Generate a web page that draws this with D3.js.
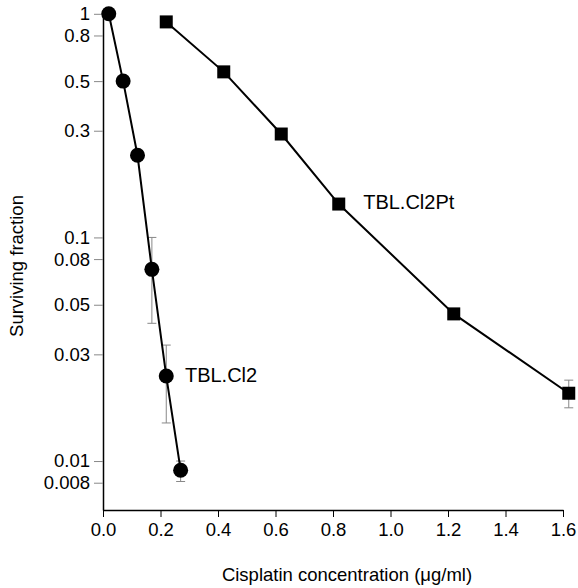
<!DOCTYPE html>
<html>
<head>
<meta charset="utf-8">
<script src="https://cdn.jsdelivr.net/npm/d3@7"></script>
<style>
  body { margin: 0; background: #fff; }
  svg { display: block; font-family: "Liberation Sans", Arial, sans-serif; }
  .axis text { font-size: 18.5px; fill: #000; }
  .y-axis .tick line { stroke: #888; }
  .x-axis .tick line { stroke: #000; }
  .axis path.domain { stroke: #000; stroke-width: 1.5; }
</style>
</head>
<body>
<svg></svg>
<script>
// TBL.Cl2 (circles)
const cl2Dose = [0.02, 0.07, 0.12, 0.17, 0.22, 0.27];
const cl2Surv = [1.0, 0.5, 0.233, 0.072, 0.024, 0.0091];
const cl2Lo   = [null, null, null, 0.0413, 0.0148, 0.0081];
const cl2Hi   = [null, null, null, 0.1, 0.033, 0.01];

// TBL.Cl2Pt (squares)
const ptDose = [0.22, 0.42, 0.62, 0.82, 1.22, 1.62];
const ptSurv = [0.92, 0.55, 0.29, 0.141, 0.0455, 0.0201];
const ptLo   = [null, null, null, null, 0.0432, 0.0173];
const ptHi   = [null, null, null, null, 0.048, 0.023];

const xTicks = [0, 0.2, 0.4, 0.6, 0.8, 1.0, 1.2, 1.4, 1.6];
const yTicks = [1, 0.8, 0.5, 0.3, 0.1, 0.08, 0.05, 0.03, 0.01, 0.008];
const yTickLabels = ["1", "0.8", "0.5", "0.3", "0.1", "0.08", "0.05", "0.03", "0.01", "0.008"];

const W = 578, H = 588;
const margin = { top: 10, right: 15, bottom: 78, left: 103 };
const width = W - margin.left - margin.right;
const height = H - margin.top - margin.bottom;

const svg = d3.select("svg").attr("width", W).attr("height", H)
  .append("g")
  .attr("transform", `translate(${margin.left},${margin.top})`);

const x = d3.scaleLinear().domain([0, 1.6]).range([0, width]);
const y = d3.scaleLog().domain([0.00604, 1.04]).range([height, 0]);

svg.append("g")
  .attr("class", "axis x-axis")
  .attr("transform", `translate(0,${height})`)
  .call(d3.axisBottom(x).tickValues(xTicks).tickFormat(d3.format(".1f"))
    .tickSize(7).tickSizeOuter(0).tickPadding(6));

svg.append("g")
  .attr("class", "axis y-axis")
  .call(d3.axisLeft(y).tickValues(yTicks)
    .tickFormat((d, i) => yTickLabels[i])
    .tickSize(9).tickSizeOuter(0).tickPadding(4));

svg.append("text")
  .attr("text-anchor", "middle")
  .attr("x", 347 - margin.left)
  .attr("y", 581 - margin.top)
  .style("font-size", "18.5px")
  .text("Cisplatin concentration (\u03bcg/ml)");

svg.append("text")
  .attr("text-anchor", "middle")
  .attr("transform", "rotate(-90)")
  .attr("x", -(266 - margin.top))
  .attr("y", 23 - margin.left)
  .style("font-size", "18.5px")
  .text("Surviving fraction");

function series(dose, surv, lo, hi) {
  return dose.map((d, i) => ({ dose: d, surv: surv[i], lo: lo[i], hi: hi[i] }));
}
const cl2 = series(cl2Dose, cl2Surv, cl2Lo, cl2Hi);
const pt = series(ptDose, ptSurv, ptLo, ptHi);

const line = d3.line().x(d => x(d.dose)).y(d => y(d.surv));

function errorBars(data) {
  const g = svg.append("g").attr("stroke", "#888").attr("stroke-width", 1);
  const e = data.filter(d => d.lo != null);
  g.selectAll("line.v").data(e).join("line")
    .attr("x1", d => x(d.dose)).attr("x2", d => x(d.dose))
    .attr("y1", d => y(d.lo)).attr("y2", d => y(d.hi));
  g.selectAll("line.lo").data(e).join("line")
    .attr("x1", d => x(d.dose) - 4.5).attr("x2", d => x(d.dose) + 4.5)
    .attr("y1", d => y(d.lo)).attr("y2", d => y(d.lo));
  g.selectAll("line.hi").data(e).join("line")
    .attr("x1", d => x(d.dose) - 4.5).attr("x2", d => x(d.dose) + 4.5)
    .attr("y1", d => y(d.hi)).attr("y2", d => y(d.hi));
}
errorBars(cl2);
errorBars(pt);

svg.append("path").datum(cl2)
  .attr("fill", "none").attr("stroke", "#000").attr("stroke-width", 2)
  .attr("d", line);
svg.append("path").datum(pt)
  .attr("fill", "none").attr("stroke", "#000").attr("stroke-width", 2)
  .attr("d", line);

svg.selectAll("circle.pt").data(cl2).join("circle")
  .attr("cx", d => x(d.dose)).attr("cy", d => y(d.surv))
  .attr("r", 7.5).attr("fill", "#000");

const sq = 13;
svg.selectAll("rect.pt").data(pt).join("rect")
  .attr("x", d => x(d.dose) - sq / 2).attr("y", d => y(d.surv) - sq / 2)
  .attr("width", sq).attr("height", sq).attr("fill", "#000");

svg.append("text")
  .attr("x", x(0.285)).attr("y", y(cl2Surv[4]) + 6)
  .style("font-size", "20px")
  .text("TBL.Cl2");

svg.append("text")
  .attr("x", x(0.905)).attr("y", y(ptSurv[3]) + 5)
  .style("font-size", "20px")
  .text("TBL.Cl2Pt");
</script>
</body>
</html>
